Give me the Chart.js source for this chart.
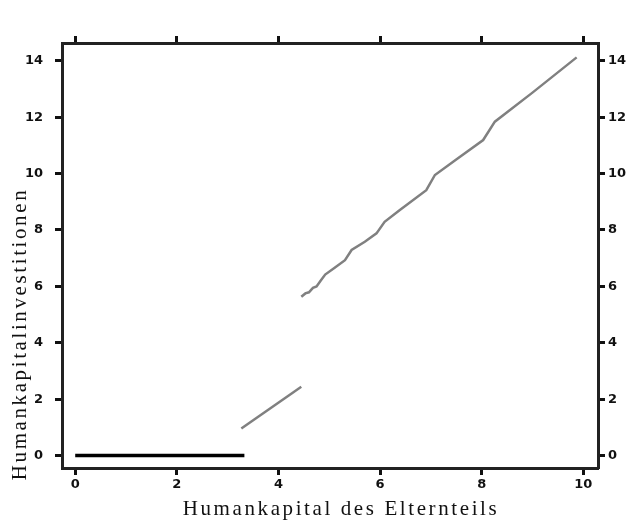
<!DOCTYPE html>
<html>
<head>
<meta charset="utf-8">
<script src="https://cdn.jsdelivr.net/npm/chart.js@4.4.0/dist/chart.umd.min.js"></script>
<style>
  body { margin: 0; background: #fff; }
  #wrap { width: 632px; height: 532px; }
</style>
</head>
<body>
<div id="wrap"><canvas id="chart" width="632" height="532"></canvas></div>
<script>
// tick labels
let xTicks = [0, 2, 4, 6, 8, 10];
let yTicks = [0, 2, 4, 6, 8, 10, 12, 14];

// no investment below the threshold
let flatX = [0, 3.33];
let flatY = [0, 0];

// low segment
let lowX = [3.27, 4.45];
let lowY = [0.96, 2.44];

// high segment
let highX = [4.45, 4.53, 4.6, 4.68, 4.75, 4.83, 4.92, 5.1, 5.31, 5.44, 5.7, 5.93, 6.09, 6.39, 6.91, 7.08, 7.5, 8.03, 8.26, 9.0, 9.87];
let highY = [5.63, 5.75, 5.79, 5.95, 6.0, 6.2, 6.42, 6.65, 6.93, 7.29, 7.58, 7.88, 8.29, 8.71, 9.41, 9.95, 10.5, 11.19, 11.84, 12.87, 14.12];

let toPoints = (xs, ys) => xs.map((x, i) => ({ x: x, y: ys[i] }));

let tickFont = { family: "'DejaVu Sans'", size: 13, weight: 'bold' };

let fixTicks = (values) => (scale) => {
      scale.ticks = values.map((v) => ({ value: v }));
};

let axisBase = {
      type: 'linear',
      grid: { drawOnChartArea: false, drawTicks: true, tickLength: 7, tickWidth: 3, tickColor: '#111' },
      border: { display: true, color: '#222', width: 3 }
};

// axis titles drawn by hand so they sit where the original has them
let axisTitles = {
      id: 'axisTitles',
      afterDraw: (chart) => {
            let ctx = chart.ctx;
            ctx.save();
            ctx.fillStyle = '#111';
            ctx.font = "21px 'Liberation Serif'";
            ctx.letterSpacing = '2.6px';
            ctx.textAlign = 'center';
            ctx.textBaseline = 'middle';
            ctx.fillText('Humankapital des Elternteils', 341, 509);
            ctx.translate(20, 334);
            ctx.rotate(-Math.PI / 2);
            ctx.fillText('Humankapitalinvestitionen', 0, 0);
            ctx.restore();
      }
};

new Chart(document.getElementById('chart').getContext('2d'), {
      type: 'line',
      data: {
            datasets: [
                  { data: toPoints(flatX, flatY), borderColor: '#000', borderWidth: 3.5 },
                  { data: toPoints(lowX, lowY), borderColor: '#808080', borderWidth: 2.5 },
                  { data: toPoints(highX, highY), borderColor: '#808080', borderWidth: 2.5 }
            ]
      },
      options: {
            responsive: false,
            animation: false,
            events: [],
            layout: { padding: 0 },
            elements: { point: { radius: 0 }, line: { tension: 0, borderCapStyle: 'butt' } },
            plugins: { legend: { display: false }, tooltip: { enabled: false } },
            scales: {
                  x: Object.assign({}, axisBase, {
                        position: 'bottom', min: -0.26, max: 10.29,
                        afterBuildTicks: fixTicks(xTicks),
                        afterFit: (s) => { s.height = 64; },
                        ticks: { font: tickFont, color: '#111', padding: 2, maxRotation: 0 }
                  }),
                  x2: Object.assign({}, axisBase, {
                        position: 'top', min: -0.26, max: 10.29,
                        afterBuildTicks: fixTicks(xTicks),
                        afterFit: (s) => { s.height = 43; },
                        ticks: { display: true, color: 'rgba(0,0,0,0)', font: tickFont }
                  }),
                  y: Object.assign({}, axisBase, {
                        position: 'left', min: -0.44, max: 14.63,
                        afterBuildTicks: fixTicks(yTicks),
                        afterFit: (s) => { s.width = 62; },
                        ticks: { font: tickFont, color: '#111', padding: 12 }
                  }),
                  y2: Object.assign({}, axisBase, {
                        position: 'right', min: -0.44, max: 14.63,
                        afterBuildTicks: fixTicks(yTicks),
                        afterFit: (s) => { s.width = 34; },
                        ticks: { font: tickFont, color: '#111', padding: 3 }
                  })
            }
      },
      plugins: [axisTitles]
});
</script>
</body>
</html>
